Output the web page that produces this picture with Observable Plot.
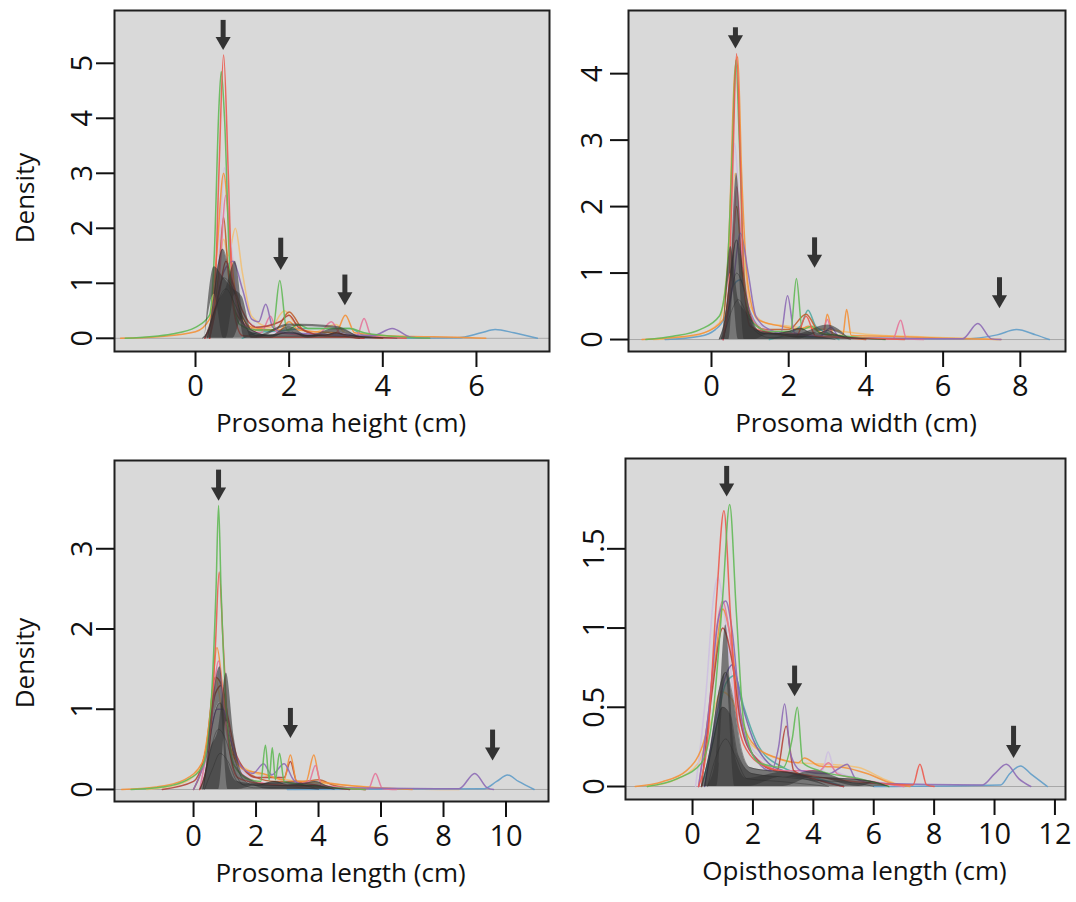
<!DOCTYPE html>
<html><head><meta charset="utf-8">
<script src="https://cdn.jsdelivr.net/npm/d3@7"></script>
<script src="https://cdn.jsdelivr.net/npm/@observablehq/plot@0.6"></script>
<style>
body{margin:0;background:#fff;font-family:"Open Sans",sans-serif;}
#wrap{position:relative;width:1076px;height:902px;overflow:hidden;}
.panel{position:absolute;}
</style></head><body><div id="wrap"></div>
<script>
// ---------- DATA ----------
// Each curve: [series id, [[x, density], ...]]
const heightCurves = [
  ["sYel", [[0.2,0],[0.45,0.8],[0.6,1.8],[0.7,1.5],[0.85,2.0],[1.0,1.2],[1.2,0.4],[1.6,0.2],[1.9,0.5],[2.1,0.3],[2.5,0.1],[3.0,0.25],[3.2,0.1],[4.0,0.02],[4.5,0]]],
  ["sLav", [[0.3,0],[0.5,1.5],[0.62,3.1],[0.75,1.8],[0.95,0.6],[1.3,0.2],[2.0,0.08],[3.0,0.1],[3.9,0.02],[4.4,0]]],
  ["sBlu", [[3.5,0],[5.6,0.01],[6.1,0.1],[6.4,0.16],[6.8,0.1],[7.3,0]]],
  ["sTea", [[1.0,0],[1.3,0.1],[2.0,0.15],[2.3,0.18],[3.3,0.18],[3.6,0.05],[4.0,0]]],
  ["sOra", [[-1.6,0],[-0.8,0.03],[0,0.12],[0.3,0.35],[0.45,1.5],[0.6,3.0],[0.75,1.6],[0.9,0.6],[1.2,0.2],[1.8,0.15],[2.0,0.3],[2.2,0.15],[3.0,0.1],[3.2,0.42],[3.4,0.1],[4.0,0.05],[5.9,0.01],[6.2,0]]],
  ["sBro", [[0.3,0],[0.5,1.2],[0.6,2.2],[0.7,1.2],[0.9,0.4],[1.3,0.15],[1.7,0.15],[2.0,0.48],[2.3,0.15],[2.7,0.05],[3.5,0.02],[4,0]]],
  ["sPin", [[0.3,0],[0.5,1.0],[0.65,2.6],[0.8,1.0],[1.0,0.3],[1.4,0.1],[1.6,0.4],[1.75,0.1],[2.6,0.05],[2.9,0.3],[3.1,0.08],[3.45,0.05],[3.6,0.36],[3.75,0.05],[4.2,0]]],
  ["sPur", [[0.2,0],[0.45,0.6],[0.6,1.2],[0.8,1.4],[1.0,0.9],[1.2,0.35],[1.35,0.3],[1.5,0.62],[1.65,0.2],[1.9,0.1],[3.8,0.05],[4.2,0.18],[4.6,0.02],[5,0]]],
  ["sDkr", [[0.3,0],[0.5,0.8],[0.65,1.4],[0.8,1.0],[1.0,0.5],[1.3,0.2],[1.8,0.3],[2.0,0.42],[2.2,0.2],[2.8,0.05],[3.0,0.1],[3.3,0.02],[3.6,0]]],
  ["sGre", [[-1.5,0],[-0.5,0.08],[0,0.2],[0.3,0.42],[0.4,1.5],[0.5,4.2],[0.55,4.85],[0.62,4.0],[0.75,1.0],[0.95,0.25],[1.3,0.15],[1.65,0.15],[1.8,1.05],[1.95,0.15],[2.2,0.25],[2.4,0.18],[3.3,0.18],[3.6,0.1],[4.5,0.02],[5,0]]],
  ["sRed", [[0.2,0],[0.4,0.6],[0.5,3.0],[0.6,5.15],[0.7,3.0],[0.8,0.6],[1.0,0.05],[1.5,0.02],[3.5,0.02],[4.5,0]]]
];
const heightGrey = [
  ["g1", [[0.15,0],[0.3,0.2],[0.4,0.8],[0.5,1.4],[0.58,1.62],[0.7,1.3],[0.85,0.8],[1.0,0.35],[1.15,0.12],[1.5,0.06],[1.8,0.08],[2.0,0.12],[2.3,0.06],[2.7,0.05],[3.0,0.1],[3.3,0.05],[3.8,0.02],[4.3,0]]],
  ["g2", [[0.2,0],[0.4,0.5],[0.6,1.1],[0.8,0.9],[1.0,0.4],[1.2,0.15],[1.6,0.05],[2.0,0.1],[2.4,0.05],[3.0,0.08],[3.6,0.02],[4,0]]],
  ["g3", [[0.25,0],[0.45,0.6],[0.65,0.9],[0.85,0.6],[1.05,0.25],[1.3,0.05],[2.0,0.04],[3.0,0.04],[3.5,0]]]
];
const heightArrows = [[0.59,5.24,5.78],[1.82,1.24,1.82],[3.19,0.6,1.15]]; // [x, tip, top]

const widthCurves = [
  ["sYel", [[-1.5,0],[-0.5,0.05],[0.2,0.25],[0.4,1.0],[0.62,2.5],[0.8,1.5],[1.0,0.5],[1.4,0.25],[2.0,0.2],[3.0,0.15],[4.0,0.08],[5.5,0.04],[7.0,0.01],[7.4,0]]],
  ["sLav", [[0.3,0],[0.5,1.5],[0.6,2.95],[0.72,2.0],[0.9,0.7],[1.1,0.3],[1.3,0.2],[1.6,0.08],[3,0.05],[4,0]]],
  ["sBlu", [[-1.2,0],[-0.3,0.05],[0.1,0.15],[0.35,0.35],[0.55,0.8],[0.75,0.9],[0.95,0.5],[1.2,0.2],[1.6,0.08],[3,0.03],[6.5,0.01],[7.4,0.07],[7.9,0.15],[8.4,0.07],[8.75,0]]],
  ["sTea", [[1.5,0],[2.3,0.2],[2.5,0.44],[2.7,0.2],[3.0,0.1],[3.3,0]]],
  ["sOra", [[-1.8,0],[-1.0,0.03],[-0.2,0.1],[0.3,0.3],[0.45,1.5],[0.6,4.0],[0.68,4.25],[0.78,2.5],[0.95,0.8],[1.2,0.3],[1.8,0.2],[2.3,0.15],[2.5,0.2],[2.9,0.1],[3.0,0.38],[3.15,0.08],[3.4,0.06],[3.5,0.45],[3.62,0.06],[4.5,0.05],[6,0.02],[7.5,0]]],
  ["sBro", [[0.3,0],[0.5,1.0],[0.65,2.0],[0.8,1.0],[1.0,0.35],[1.4,0.15],[2.0,0.15],[2.45,0.38],[2.8,0.1],[3.2,0.05],[4,0]]],
  ["sPin", [[0.3,0],[0.55,1.2],[0.65,2.3],[0.8,1.2],[1.0,0.4],[1.3,0.15],[2.0,0.1],[2.85,0.05],[3.0,0.3],[3.15,0.05],[4.7,0.01],[4.9,0.29],[5.05,0.01],[5.5,0]]],
  ["sPur", [[0.3,0],[0.55,0.8],[0.75,1.6],[0.95,1.0],[1.15,0.35],[1.5,0.15],[1.8,0.1],[1.97,0.66],[2.15,0.1],[2.8,0.05],[3.1,0.18],[3.3,0.05],[4,0.02],[6.5,0.01],[6.9,0.24],[7.25,0.01],[7.5,0]]],
  ["sGre", [[-1.7,0],[-1.0,0.05],[-0.3,0.15],[0.2,0.35],[0.4,1.0],[0.55,3.0],[0.63,4.2],[0.72,3.0],[0.85,0.9],[1.0,0.3],[1.5,0.12],[2.05,0.12],[2.2,0.92],[2.35,0.15],[2.6,0.2],[2.8,0.1],[3.5,0.05],[4.5,0]]],
  ["sRed", [[0.3,0],[0.45,0.8],[0.55,2.6],[0.65,4.3],[0.75,2.6],[0.85,0.8],[1.0,0.2],[1.5,0.1],[2.2,0.05],[2.45,0.35],[2.7,0.05],[4.0,0.02],[5,0]]]
];
const widthGrey = [
  ["g1", [[0.2,0],[0.35,0.3],[0.5,1.0],[0.65,1.5],[0.8,1.1],[0.95,0.5],[1.15,0.15],[1.5,0.08],[2.0,0.12],[2.3,0.17],[2.6,0.1],[2.8,0.1],[3.0,0.14],[3.3,0.06],[3.8,0.02],[4.5,0]]],
  ["g2", [[0.25,0],[0.45,0.5],[0.65,1.0],[0.85,0.75],[1.05,0.3],[1.3,0.1],[2.2,0.08],[3.0,0.08],[3.6,0]]],
  ["g3", [[0.3,0],[0.5,0.4],[0.7,0.6],[0.9,0.4],[1.1,0.15],[1.5,0.03],[2.5,0.05],[3.2,0]]]
];
const widthArrows = [[0.62,4.38,4.69],[2.67,1.08,1.53],[7.46,0.47,0.93]];

const lengthCurves = [
  ["sYel", [[-1.5,0],[-0.5,0.06],[0.2,0.25],[0.5,0.8],[0.7,1.4],[0.9,1.0],[1.3,0.4],[2,0.2],[3,0.12],[4,0.08],[5,0.05],[6.5,0.01],[8.5,0]]],
  ["sLav", [[0.2,0],[0.55,0.8],[0.75,1.5],[0.95,1.0],[1.3,0.35],[2.0,0.15],[2.5,0.2],[3.0,0.1],[4,0.05],[5,0]]],
  ["sBlu", [[3,0],[9.3,0.01],[9.7,0.1],[10.05,0.18],[10.4,0.1],[10.9,0]]],
  ["sBro", [[0,0],[0.4,0.5],[0.7,1.4],[0.9,1.3],[1.1,0.8],[1.4,0.35],[2,0.15],[2.6,0.1],[3.5,0.1],[4,0.12],[4.5,0.05],[5.5,0]]],
  ["sDkr", [[-1,0],[0,0.1],[0.4,0.5],[0.7,1.2],[0.9,1.3],[1.1,0.9],[1.4,0.4],[2,0.15],[2.9,0.15],[3.1,0.35],[3.3,0.1],[4,0.05],[5,0]]],
  ["sOra", [[-2.3,0],[-1.2,0.03],[-0.3,0.12],[0.3,0.35],[0.55,1.0],[0.75,1.77],[0.95,1.2],[1.2,0.5],[1.6,0.25],[2.2,0.2],[2.9,0.12],[3.1,0.43],[3.3,0.1],[3.6,0.1],[3.85,0.43],[4.05,0.1],[4.5,0.07],[5.5,0.03],[7,0]]],
  ["sPin", [[0.2,0],[0.55,0.8],[0.8,1.6],[1.0,0.9],[1.3,0.3],[2,0.1],[3.0,0.05],[3.7,0.1],[3.9,0.3],[4.1,0.05],[5.6,0.01],[5.82,0.2],[6.05,0.01],[6.5,0]]],
  ["sPur", [[0,0],[0.4,0.4],[0.75,1.0],[0.95,1.0],[1.2,0.6],[1.5,0.3],[1.9,0.2],[2.24,0.32],[2.5,0.18],[2.9,0.32],[3.2,0.12],[3.6,0.05],[4.5,0.02],[8.5,0.01],[9.0,0.2],[9.4,0.02],[9.6,0]]],
  ["sRed", [[0.2,0],[0.5,0.5],[0.7,1.8],[0.82,2.71],[0.95,1.8],[1.15,0.5],[1.4,0.15],[2,0.08],[3,0.05],[4,0.03],[5.5,0]]],
  ["sGre", [[-2,0],[-1,0.03],[-0.2,0.12],[0.3,0.3],[0.55,1.0],[0.72,2.5],[0.8,3.54],[0.88,2.5],[1.05,1.0],[1.3,0.3],[1.8,0.12],[2.15,0.1],[2.3,0.55],[2.42,0.12],[2.52,0.52],[2.62,0.12],[2.75,0.45],[2.9,0.1],[3.5,0.06],[4.5,0.02],[5.5,0]]]
];
const lengthGrey = [
  ["g1", [[0.2,0],[0.4,0.25],[0.6,0.8],[0.85,1.08],[1.05,0.85],[1.3,0.4],[1.6,0.12],[2,0.05],[2.6,0.1],[3,0.06],[3.6,0.08],[3.9,0.1],[4.3,0.04],[5,0]]],
  ["g2", [[0.3,0],[0.55,0.5],[0.8,0.75],[1.05,0.6],[1.3,0.25],[1.6,0.06],[2.5,0.05],[3.8,0.05],[4.5,0]]],
  ["g3", [[0.35,0],[0.6,0.25],[0.85,0.45],[1.1,0.35],[1.4,0.1],[2,0.02],[3,0.03],[4,0]]]
];
const lengthArrows = [[0.8,3.6,3.98],[3.1,0.64,1.01],[9.57,0.36,0.74]];

const opisCurves = [
  ["sYel", [[-1.5,0],[-0.6,0.04],[0.2,0.15],[0.6,0.4],[0.95,0.6],[1.3,0.55],[1.8,0.3],[2.5,0.2],[3.5,0.15],[4.5,0.14],[5.5,0.12],[6.3,0.05],[7,0]]],
  ["sLav", [[0.1,0],[0.45,0.6],[0.7,1.2],[0.84,1.32],[1.05,1.1],[1.35,0.6],[1.8,0.3],[2.5,0.15],[3.0,0.1],[4.3,0.1],[4.49,0.22],[4.7,0.1],[5.5,0.05],[6.5,0]]],
  ["sTea", [[0.3,0],[0.7,0.3],[1.1,0.65],[1.4,0.7],[1.7,0.5],[2.2,0.25],[3,0.12],[4,0.06],[5,0]]],
  ["sBlu", [[6,0],[10.2,0.01],[10.5,0.08],[10.86,0.13],[11.2,0.08],[11.75,0]]],
  ["sOra", [[-1.9,0],[-1.0,0.03],[-0.2,0.1],[0.4,0.3],[0.75,0.8],[1.0,1.12],[1.25,0.95],[1.6,0.45],[2.1,0.25],[2.8,0.18],[3.5,0.15],[3.7,0.18],[4.2,0.13],[5,0.12],[5.8,0.08],[6.6,0.02],[7.2,0]]],
  ["sVio", [[0.4,0],[0.8,0.45],[1.1,0.7],[1.33,0.77],[1.6,0.55],[2.0,0.3],[2.5,0.15],[3,0.1],[4,0.05],[5,0]]],
  ["sPin", [[0.2,0],[0.55,0.5],[0.8,1.0],[1.0,1.17],[1.2,1.0],[1.5,0.5],[2.0,0.2],[3,0.1],[4.2,0.1],[4.5,0.15],[4.8,0.08],[6,0.03],[7,0]]],
  ["sDkr", [[0.3,0],[0.65,0.6],[1.0,1.0],[1.3,0.8],[1.6,0.4],[2.0,0.2],[2.8,0.1],[3.1,0.38],[3.35,0.1],[4,0.05],[5,0]]],
  ["sPur", [[0.2,0],[0.55,0.5],[0.85,1.05],[1.1,1.17],[1.3,1.0],[1.6,0.45],[2.0,0.2],[2.6,0.1],[2.85,0.25],[3.05,0.52],[3.25,0.2],[3.6,0.1],[4.5,0.08],[4.9,0.12],[5.12,0.14],[5.4,0.05],[6,0.02],[9.6,0.01],[10.0,0.08],[10.39,0.14],[10.8,0.05],[11.2,0]]],
  ["sRed", [[0.2,0],[0.5,0.3],[0.8,1.2],[1.04,1.74],[1.25,1.1],[1.5,0.4],[1.9,0.2],[2.5,0.12],[3.5,0.08],[4.5,0.05],[6,0.02],[7.3,0.01],[7.53,0.14],[7.75,0.01],[8,0]]],
  ["sGre", [[-1.5,0],[-0.5,0.05],[0.3,0.15],[0.7,0.5],[1.0,1.2],[1.23,1.78],[1.45,1.1],[1.7,0.4],[2.2,0.15],[3.0,0.12],[3.3,0.3],[3.47,0.5],[3.65,0.15],[4.2,0.1],[5.5,0.05],[6.5,0]]]
];
const opisGrey = [
  ["g1", [[0.3,0],[0.6,0.25],[0.9,0.62],[1.1,0.72],[1.35,0.55],[1.6,0.25],[1.9,0.12],[2.5,0.1],[3.2,0.09],[4,0.06],[5,0.05],[6,0.03],[6.5,0]]],
  ["g2", [[0.4,0],[0.7,0.3],[1.0,0.5],[1.25,0.45],[1.5,0.2],[2,0.08],[3,0.06],[4,0.04],[5.5,0.02],[6,0]]],
  ["g3", [[0.5,0],[0.8,0.2],[1.1,0.3],[1.4,0.2],[1.8,0.05],[3,0.03],[4.5,0]]]
];
const opisArrows = [[1.13,1.83,2.02],[3.38,0.57,0.76],[10.63,0.18,0.38]];

const heightXTicks = [0,2,4,6], heightYTicks = [0,1,2,3,4,5];
const widthXTicks = [0,2,4,6,8], widthYTicks = [0,1,2,3,4];
const lengthXTicks = [0,2,4,6,8,10], lengthYTicks = [0,1,2,3];
const opisXTicks = [0,2,4,6,8,10,12], opisYTicks = [0,0.5,1,1.5];

// ---------- STYLE ----------
const seriesIds = ["sRed","sGre","sOra","sYel","sPur","sBro","sPin","sLav","sBlu","sTea","sDkr","sVio"];
const seriesColors = ["#ec5a4e","#62b957","#f3913a","#f1c077","#8d6ab5","#c0602f","#e4769a","#cdbfe0","#5f9cc8","#52aaa2","#b4453a","#7466ac"];

const panels = [
  {curves: heightCurves, grey: heightGrey, arrows: heightArrows, xt: heightXTicks, yt: heightYTicks,
   label: "Prosoma height (cm)", density: true, dDy: 17,
   left: 0, top: 0, width: 560, height: 450, m: [10, 11, 99, 114], xd: [-1.73, 7.56], yd: [-0.24, 5.96], yPad: 5, xPad: 8},
  {curves: widthCurves, grey: widthGrey, arrows: widthArrows, xt: widthXTicks, yt: widthYTicks,
   label: "Prosoma width (cm)", density: false,
   left: 560, top: 0, width: 516, height: 450, m: [10, 11, 99, 68], xd: [-2.15, 9.17], yd: [-0.18, 4.95], yPad: 9, xPad: 8},
  {curves: lengthCurves, grey: lengthGrey, arrows: lengthArrows, xt: lengthXTicks, yt: lengthYTicks,
   label: "Prosoma length (cm)", density: true, dDy: 32,
   left: 0, top: 450, width: 560, height: 452, m: [10, 12, 101, 114], xd: [-2.53, 11.36], yd: [-0.15, 4.1], yPad: 5, xPad: 8},
  {curves: opisCurves, grey: opisGrey, arrows: opisArrows, xt: opisXTicks, yt: opisYTicks,
   label: "Opisthosoma length (cm)", density: false,
   left: 560, top: 450, width: 516, height: 452, m: [8, 11, 103, 65], xd: [-2.22, 12.35], yd: [-0.082, 2.07], yPad: 4, xPad: 8}
];

const toRows = (list) => list.flatMap(([s, pts]) => pts.map(([x, y]) => ({s, x, y})));
const wrap = document.getElementById("wrap");

for (const p of panels) {
  const rows = toRows(p.curves);
  const grey = toRows(p.grey);
  const marks = [
    Plot.frame({fill: "#d9d9d9"}),
    Plot.ruleY([0], {stroke: "#a8a8a8", strokeWidth: 1}),
    Plot.line(rows, {x: "x", y: "y", z: "s", stroke: "s", strokeWidth: 1.5, strokeOpacity: 0.9, curve: "monotone-x"}),
    Plot.areaY(grey, {x: "x", y: "y", z: "s", fill: "#333333", fillOpacity: 0.6, curve: "monotone-x"}),
    Plot.line(grey, {x: "x", y: "y", z: "s", stroke: "#2b2b2b", strokeWidth: 0.7, strokeOpacity: 0.6, curve: "monotone-x"}),
    Plot.ruleX(p.arrows, {x: d => d[0], y1: d => d[2], y2: d => d[1], stroke: "#333", strokeWidth: 5, insetBottom: 10}),
    Plot.dot(p.arrows, {x: d => d[0], y: d => d[1], symbol: "triangle", r: 5.6, rotate: 180, fill: "#333", stroke: null, dy: -8.7}),
    Plot.frame({stroke: "#1f1f1f", strokeWidth: 2}),
    Plot.axisX({ticks: p.xt, tickSize: 16, tickPadding: p.xPad, fontSize: 29, label: null, strokeWidth: 2, tickFormat: d => String(d)}),
    Plot.axisY({ticks: p.yt, tickSize: 18, tickPadding: p.yPad, tickRotate: -90, fontSize: 29, label: null, strokeWidth: 2, tickFormat: d => String(d)}),
    Plot.text([p.label], {frameAnchor: "bottom", lineAnchor: "bottom", dy: 80, dx: 9, fontSize: 26, fill: "#111"})
  ];
  if (p.density) marks.push(Plot.text(["Density"], {frameAnchor: "left", textAnchor: "middle", lineAnchor: "middle", dx: -89, dy: p.dDy, rotate: -90, fontSize: 26, fill: "#111"}));
  const chart = Plot.plot({
    width: p.width, height: p.height,
    marginTop: p.m[0], marginRight: p.m[1], marginBottom: p.m[2], marginLeft: p.m[3],
    x: {domain: p.xd},
    y: {domain: p.yd},
    color: {type: "ordinal", domain: seriesIds, range: seriesColors},
    style: {fontFamily: "'Open Sans', sans-serif", background: "transparent", color: "#111", overflow: "visible"},
    marks
  });
  const div = document.createElement("div");
  div.className = "panel";
  div.style.left = p.left + "px";
  div.style.top = p.top + "px";
  div.appendChild(chart);
  wrap.appendChild(div);
}
</script></body></html>
